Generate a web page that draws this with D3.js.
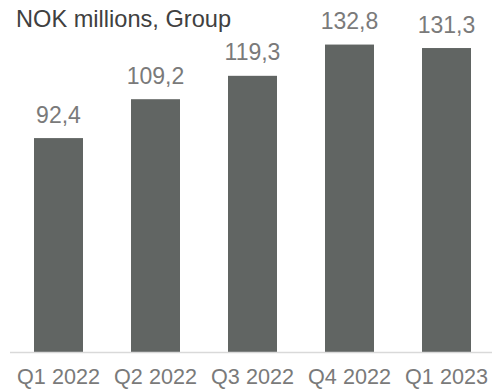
<!DOCTYPE html>
<html>
<head>
<meta charset="utf-8">
<script src="https://cdn.jsdelivr.net/npm/d3@7/dist/d3.min.js"></script>
<style>
  html, body { margin: 0; padding: 0; background: #fff; }
  svg { display: block; font-family: "Liberation Sans", Arial, sans-serif; }
</style>
</head>
<body>
<svg id="chart" width="492" height="389"></svg>
<script>
// Quarterly figures, NOK millions
const categories = ["Q1 2022", "Q2 2022", "Q3 2022", "Q4 2022", "Q1 2023"];
const values = [92.4, 109.2, 119.3, 132.8, 131.3];
const valueLabels = ["92,4", "109,2", "119,3", "132,8", "131,3"];
const title = "NOK millions, Group";

const svg = d3.select("#chart");
const W = 492, H = 389;
const baseY = 352;

const x = d3.scaleBand()
  .domain(categories)
  .range([10, 495])
  .paddingInner(0.495)
  .paddingOuter(0.2475);

const y = d3.scaleLinear()
  .domain([0, 152.05])
  .range([baseY, 0]);

// Bars
svg.append("g")
  .selectAll("rect")
  .data(values)
  .join("rect")
  .attr("x", (d, i) => x(categories[i]))
  .attr("y", d => y(d))
  .attr("width", x.bandwidth())
  .attr("height", d => y(0) - y(d))
  .attr("fill", "#616563");

// Baseline
svg.append("line")
  .attr("x1", 10).attr("x2", W)
  .attr("y1", baseY + 0.5).attr("y2", baseY + 0.5)
  .attr("stroke", "#d9d9d9")
  .attr("stroke-width", 1.5);

// Value labels
svg.append("g")
  .selectAll("text")
  .data(values)
  .join("text")
  .attr("x", (d, i) => x(categories[i]) + x.bandwidth() / 2)
  .attr("y", d => y(d) - 15.5)
  .attr("text-anchor", "middle")
  .attr("font-size", "23px")
  .attr("fill", "#7a7a7a")
  .text((d, i) => valueLabels[i]);

// Category axis
const xAxis = svg.append("g")
  .attr("transform", `translate(0,${baseY})`)
  .call(d3.axisBottom(x).tickSize(0).tickPadding(32));
xAxis.select(".domain").remove();
xAxis.selectAll("text")
  .attr("font-size", "21.6px")
  .attr("font-family", "Liberation Sans, Arial, sans-serif")
  .attr("fill", "#7a7a7a")
  .attr("dy", 0);

// Title
svg.append("text")
  .attr("x", 16)
  .attr("y", 27)
  .attr("font-size", "23.6px")
  .attr("fill", "#404040")
  .text(title);
</script>
</body>
</html>
